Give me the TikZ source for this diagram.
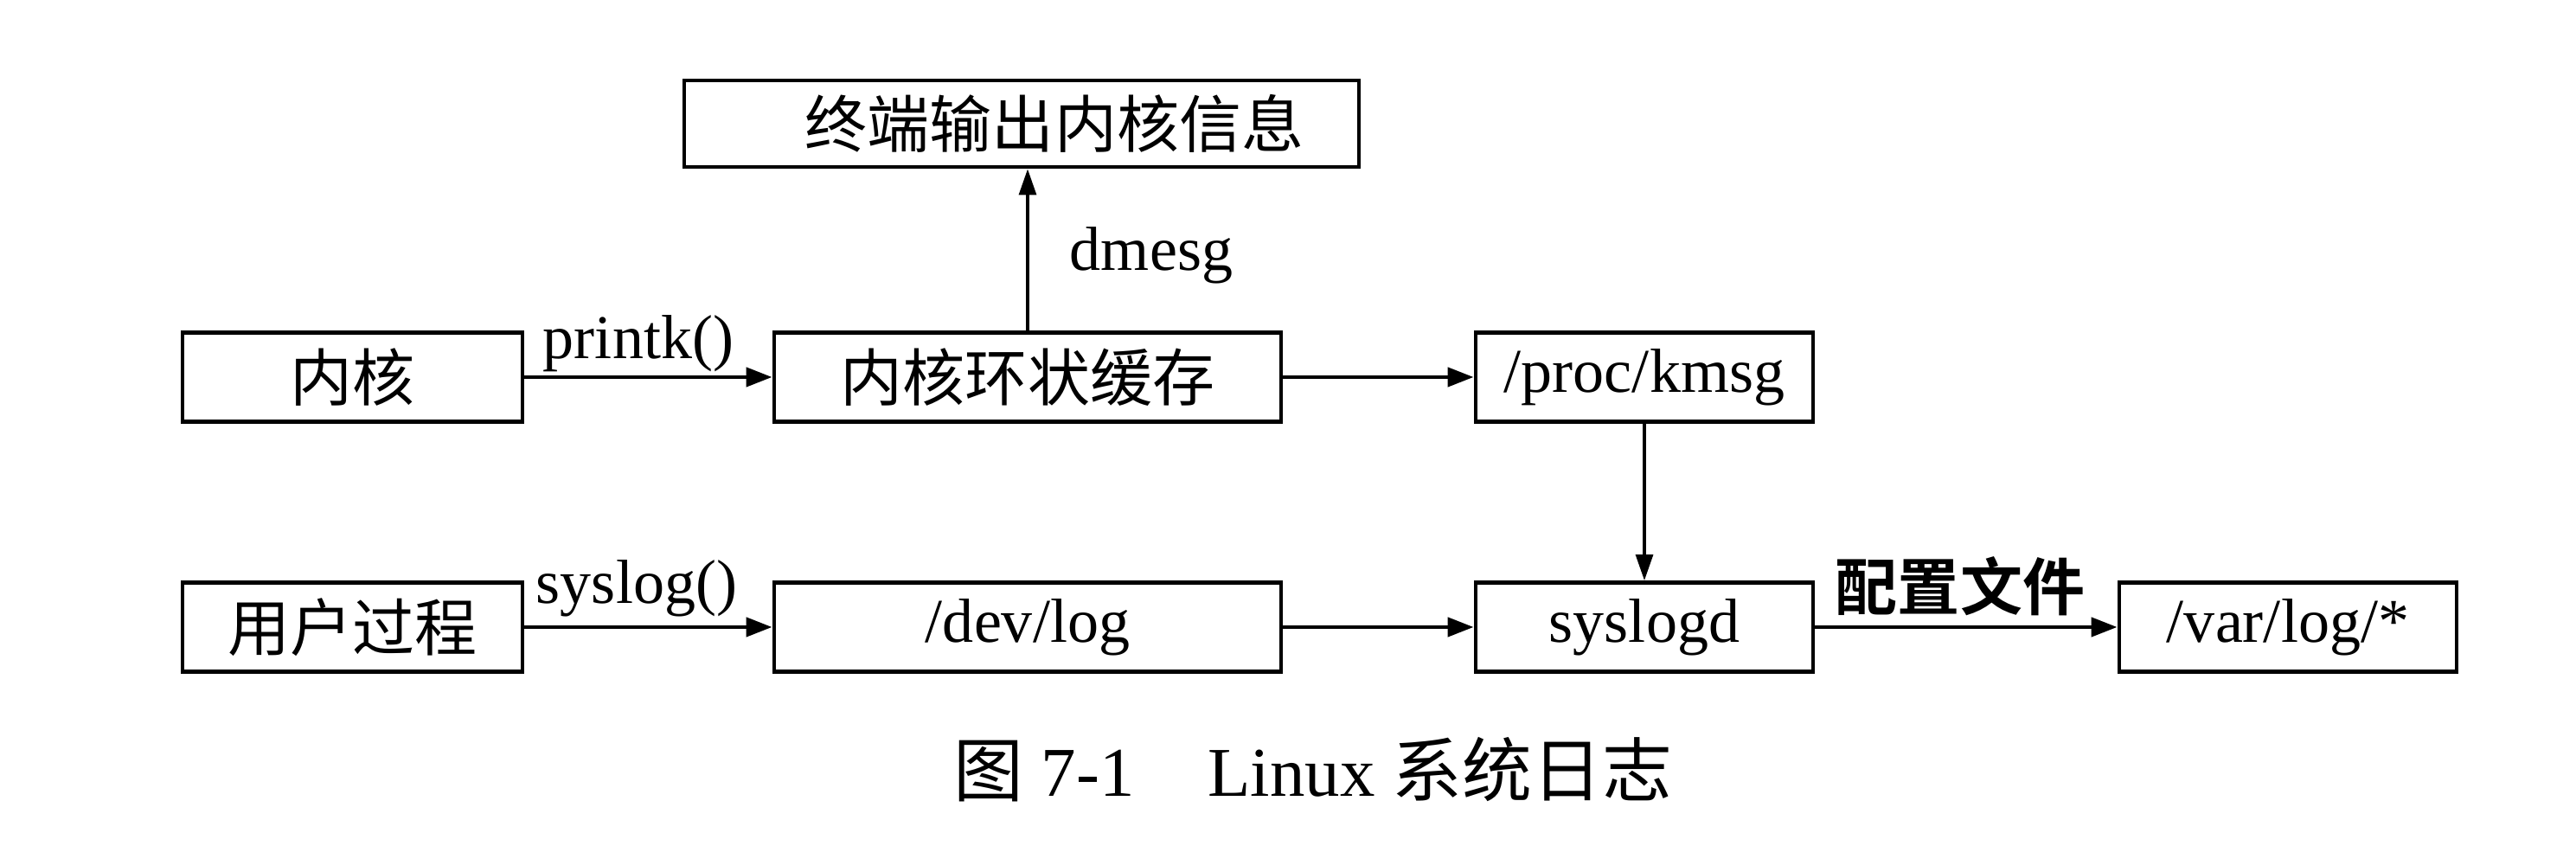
\documentclass[tikz,border=0pt]{standalone}
\usepackage{fontspec}
\setmainfont{Liberation Serif}
\newfontfamily\cjk{Noto Sans CJK SC}
\newfontfamily\cjkb{Noto Sans CJK SC Bold}
\usetikzlibrary{arrows.meta}
\begin{document}
\begin{tikzpicture}[
  box/.style={draw, line width=1.4pt, inner sep=0pt, minimum height=1.03cm, font=\fontsize{20.5}{22}\selectfont},
  cbox/.style={box, font=\fontsize{20.5}{22}\selectfont\cjk},
  conn/.style={line width=1.3pt, -{Triangle[length=0.3cm,width=0.22cm]}},
  vconn/.style={line width=0.9pt, -{Triangle[length=0.3cm,width=0.2cm]}},
  lab/.style={inner sep=0pt, font=\fontsize{20.5}{22}\selectfont}
]
\useasboundingbox (0,0) rectangle (29.78,10);
% nodes
\node[box, minimum width=7.80cm, minimum height=1.00cm] (top) at (11.81,8.57) {};
\node[inner sep=0pt, font=\fontsize{20.5}{22}\selectfont\cjk] (toptext) at (12.19,8.57) {终端输出内核信息};
\node[cbox, minimum width=3.93cm] (kernel) at (4.075,5.64) {内核};
\node[cbox, minimum width=5.86cm] (ring) at (11.88,5.64) {内核环状缓存};
\node[box, minimum width=3.90cm] (kmsg) at (19.01,5.64) {/proc/kmsg};
\node[cbox, minimum width=3.93cm] (user) at (4.075,2.75) {用户过程};
\node[box, minimum width=5.86cm] (devlog) at (11.88,2.75) {/dev/log};
\node[box, minimum width=3.90cm] (syslogd) at (19.01,2.75) {syslogd};
\node[box, minimum width=3.90cm] (varlog) at (26.45,2.75) {/var/log/*};
% connectors
\draw[conn] (kernel) -- (ring);
\draw[conn] (ring) -- (kmsg);
\draw[vconn] (ring.north) -- (ring.north |- top.south);
\draw[vconn] (kmsg) -- (syslogd);
\draw[conn] (user) -- (devlog);
\draw[conn] (devlog) -- (syslogd);
\draw[conn] (syslogd) -- (varlog);
% labels
\node[lab] (printk) at (7.38,6.03) {printk()};
\node[lab] (syslogf) at (7.36,3.20) {syslog()};
\node[lab] (dmesg) at (13.31,7.05) {dmesg};
\node[lab, font=\fontsize{20.5}{22}\selectfont\cjkb] (conf) at (22.66,3.22) {配置文件};
% caption
\node[inner sep=0pt, anchor=west, font=\fontsize{23}{25}\selectfont] (caption) at (11.02,1.10)
  {{\cjk 图}~7-1\hspace{0.85cm}Linux {\cjk 系统日志}};
\end{tikzpicture}
\end{document}
